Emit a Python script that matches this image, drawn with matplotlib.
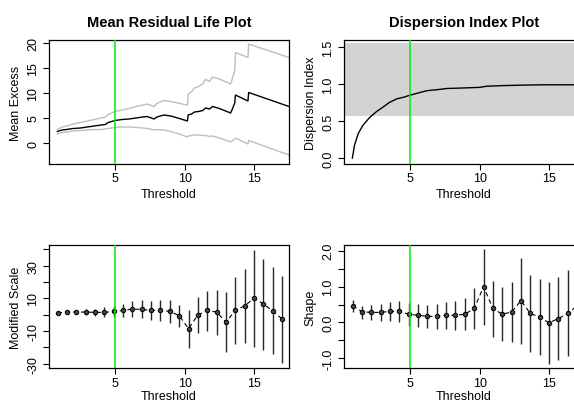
import numpy as np
import matplotlib
matplotlib.use("Agg")
import matplotlib.pyplot as plt

plt.rcParams['font.family'] = ['Liberation Sans', 'DejaVu Sans']

# Mean residual life plot (threshold, mean excess, upper / lower CI)
mrl_u = [0.85, 1.2, 1.5, 2.0, 2.5, 3.0, 3.5, 4.0, 4.3, 4.5, 5.0, 5.5, 6.0, 6.5,
         7.0, 7.3, 7.8, 8.0, 8.5, 9.0, 9.5, 10.2, 10.25, 10.5, 10.7, 11.0, 11.3,
         11.5, 11.8, 12.0, 12.5, 13.3, 13.4, 13.6, 13.65, 14.55, 14.6, 17.5]
mrl_mean = [2.3, 2.6, 2.7, 2.9, 3.0, 3.2, 3.4, 3.6, 3.7, 4.1, 4.5, 4.7, 4.8, 5.0,
            5.2, 5.3, 4.8, 5.2, 5.6, 5.4, 5.0, 4.4, 5.6, 5.8, 6.2, 6.3, 6.5,
            7.0, 6.8, 7.3, 6.9, 6.0, 6.6, 8.0, 9.6, 8.4, 10.1, 7.3]
mrl_upper = [2.7, 3.2, 3.4, 3.8, 4.1, 4.4, 4.7, 5.0, 5.2, 5.7, 6.3, 6.6, 6.9, 7.3,
             7.6, 7.8, 7.3, 7.9, 8.5, 8.3, 8.0, 7.6, 9.7, 10.3, 11.0, 11.3, 11.8,
             12.7, 12.3, 13.2, 12.8, 11.8, 12.6, 14.5, 18.1, 17.1, 19.8, 17.1]
mrl_lower = [1.8, 2.1, 2.2, 2.4, 2.5, 2.6, 2.7, 2.7, 2.8, 2.9, 3.1, 3.2, 3.2, 3.1,
             3.0, 2.9, 2.6, 2.7, 2.6, 2.3, 1.9, 1.2, 1.4, 1.5, 1.6, 1.6, 1.5,
             1.5, 1.3, 1.4, 1.0, 0.2, 0.4, 0.8, 1.0, -0.2, 0.5, -2.4]

# Dispersion index plot
di_u = [0.85, 1.0, 1.27, 1.6, 2.1, 2.6, 3.07, 3.5, 4.04, 4.5, 5.0, 5.6, 6.2,
        7.0, 7.65, 8.5, 10.0, 10.5, 11.5, 12.95, 14.5, 16.8, 17.5]
di_index = [0.0, 0.17, 0.33, 0.44, 0.55, 0.63, 0.69, 0.75, 0.80, 0.82, 0.85, 0.88,
            0.91, 0.925, 0.94, 0.945, 0.955, 0.97, 0.978, 0.985, 0.99, 0.99, 0.99]
di_band = (0.57, 1.555)

# Threshold choice plots (tcplot)
tc_u = [0.87, 1.54, 2.21, 2.89, 3.56, 4.23, 4.90, 5.57, 6.25, 6.92, 7.59, 8.26,
        8.94, 9.61, 10.28, 10.95, 11.62, 12.30, 12.97, 13.64, 14.31, 14.98,
        15.66, 16.33, 17.00]
scale_est = [1.0, 1.6, 1.6, 1.6, 1.4, 1.4, 2.0, 2.6, 3.4, 3.2, 2.6, 2.6, 2.0,
             -0.6, -8.6, -0.2, 2.6, 1.6, -4.6, 2.6, 5.4, 10.0, 6.6, 2.2, -2.6]
scale_hi = [2.0, 2.8, 3.0, 3.2, 3.4, 4.4, 5.5, 6.6, 8.4, 8.7, 8.6, 9.1, 9.0,
            6.0, 3.0, 10.6, 14.6, 15.2, 13.6, 23.2, 28.2, 39.6, 34.0, 29.0, 24.0]
scale_lo = [0.0, 0.4, 0.2, 0.0, -0.6, -1.6, -1.5, -1.4, -1.6, -2.3, -3.4, -3.9, -5.0,
            -7.6, -20.6, -11.4, -10.0, -12.4, -22.8, -17.8, -17.6, -19.6, -21.4,
            -24.4, -29.4]
shape_est = [0.465, 0.30, 0.28, 0.28, 0.31, 0.31, 0.23, 0.20, 0.17, 0.17, 0.20,
             0.20, 0.23, 0.39, 1.00, 0.39, 0.23, 0.29, 0.61, 0.25, 0.15, -0.01,
             0.11, 0.25, 0.46]
shape_hi = [0.62, 0.47, 0.48, 0.51, 0.58, 0.60, 0.54, 0.51, 0.48, 0.51, 0.57,
            0.60, 0.68, 0.95, 2.05, 1.15, 0.99, 1.12, 1.79, 1.32, 1.21, 1.14,
            1.27, 1.46, 1.70]
shape_lo = [0.28, 0.11, 0.07, 0.05, 0.04, 0.0, -0.09, -0.12, -0.16, -0.19, -0.19,
            -0.21, -0.21, -0.17, -0.07, -0.40, -0.51, -0.54, -0.59, -0.82, -0.90,
            -1.16, -1.05, -0.95, -0.80]

u_chosen = 5
xlim = (0.25, 17.5)
fs = 9

W, H = 574, 402
fig = plt.figure(figsize=(W / 100, H / 100), dpi=100)


def make_ax(x0, y0, x1, y1):
    # pixel box (from top-left) -> axes
    return fig.add_axes([x0 / W, 1 - y1 / H, (x1 - x0) / W, (y1 - y0) / H])


def style(ax, ylabel, title=None, xpad=3):
    ax.set_xlim(*xlim)
    ax.set_xticks([5, 10, 15])
    for s in ax.spines.values():
        s.set_linewidth(0.9)
    ax.tick_params(direction='out', length=4, width=0.8, labelsize=fs, pad=2)
    ax.tick_params(axis='y', pad=3)
    for lab in ax.get_yticklabels():
        lab.set_rotation(90)
        lab.set_va('center')
    ax.set_xlabel('Threshold', fontsize=fs, labelpad=xpad)
    ax.set_ylabel(ylabel, fontsize=fs, labelpad=4)
    if title:
        ax.set_title(title, fontsize=10.5, fontweight='bold', pad=10)
    ax.axvline(u_chosen, color='#00ee00', lw=1.1, zorder=3)


# Mean residual life
ax1 = make_ax(49, 41, 289, 165)
ax1.plot(mrl_u, mrl_upper, color='#bebebe', lw=1)
ax1.plot(mrl_u, mrl_lower, color='#bebebe', lw=1)
ax1.plot(mrl_u, mrl_mean, color='black', lw=1)
ax1.set_ylim(-4.2, 20.6)
ax1.set_yticks([0, 5, 10, 15, 20])
style(ax1, 'Mean Excess', 'Mean Residual Life Plot')

# Dispersion index
ax2 = make_ax(344, 41, 584, 165)
ax2.axhspan(di_band[0], di_band[1], color='#d3d3d3', lw=0, zorder=0)
ax2.plot(di_u, di_index, color='black', lw=1)
ax2.set_ylim(-0.08, 1.595)
ax2.set_yticks([0.0, 0.5, 1.0, 1.5])
ax2.set_yticklabels(['0.0', '0.5', '1.0', '1.5'])
style(ax2, 'Dispersion Index', 'Dispersion Index Plot')


def tc_panel(ax, est, lo, hi):
    ax.vlines(tc_u, lo, hi, color='#262626', lw=1.0)
    ax.plot(tc_u, est, color='black', lw=0.8, ls=(0, (4, 3)),
            marker='o', ms=3.2, mfc='#444444', mec='black', mew=0.7)


# Modified scale
ax3 = make_ax(49, 245.7, 289, 369.3)
tc_panel(ax3, scale_est, scale_lo, scale_hi)
ax3.set_ylim(-32.9, 42.9)
ax3.set_yticks(np.arange(-30, 41, 10))
ax3.set_yticklabels(['-30', '', '-10', '', '10', '', '30', ''])
style(ax3, 'Modified Scale', xpad=1)

# Shape
ax4 = make_ax(344, 245.7, 584, 369.3)
tc_panel(ax4, shape_est, shape_lo, shape_hi)
ax4.set_ylim(-1.28, 2.17)
ax4.set_yticks([-1.0, -0.5, 0.0, 0.5, 1.0, 1.5, 2.0])
ax4.set_yticklabels(['-1.0', '', '0.0', '', '1.0', '', '2.0'])
style(ax4, 'Shape', xpad=1)

fig.savefig('out.png', dpi=100)
